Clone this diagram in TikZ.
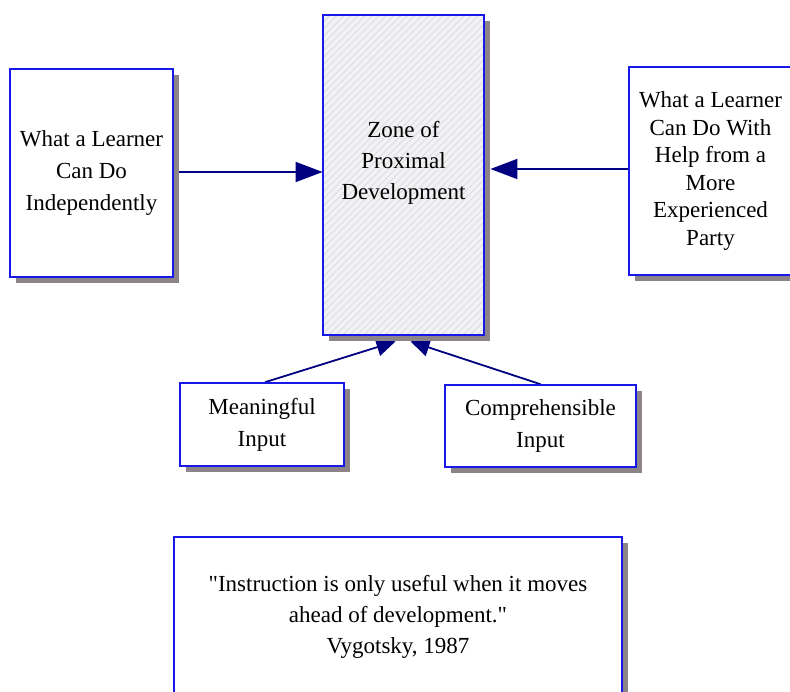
\documentclass[tikz,border=0pt]{standalone}
\usepackage{fontspec}
\setmainfont{Liberation Serif}
\usetikzlibrary{positioning,arrows.meta,shadows,patterns.meta,backgrounds}

\definecolor{boxblue}{RGB}{24,24,232}
\definecolor{linknavy}{RGB}{0,0,128}
\definecolor{shadowgray}{RGB}{140,132,136}
\definecolor{zonefill}{RGB}{242,241,243}
\definecolor{zonehatch}{RGB}{222,220,224}

\tikzset{
  card/.style={draw=boxblue, line width=1.6pt, fill=white, align=center,
    inner sep=0pt, font=\fontsize{23}{32}\selectfont,
    drop shadow={shadow xshift=6pt, shadow yshift=-6pt, fill=shadowgray, opacity=1}},
  link/.style={draw=linknavy, line width=1.8pt, -{Triangle[length=27pt,width=20pt]}},
  uplink/.style={draw=linknavy, line width=1.8pt, -{Triangle[length=19pt,width=18pt]}}
}

\begin{document}
\begin{tikzpicture}[x=1pt,y=-1pt]
	\useasboundingbox (0,0) rectangle (790,692);
	\clip (0,0) rectangle (790,692);

	% the zone in the middle, hatched
	\node[card, minimum width=161pt, minimum height=320pt,
	      preaction={fill=zonefill},
	      pattern={Lines[angle=45,distance=5pt,line width=0.9pt]}, pattern color=zonehatch]
	      (zpd) at (403.5,175) {};
	\node[font=\fontsize{23}{31}\selectfont, align=center] (zpdtext) at (403.5,163)
	      {Zone of\\Proximal\\Development};

	% what the learner manages alone / with help
	\node[card, minimum width=163pt, minimum height=208pt] (solo) at (91.5,173)
	      {What a Learner\\Can Do\\Independently};
	\node[card, minimum width=163pt, minimum height=208pt,
	      font=\fontsize{23}{27.5}\selectfont] (helped) at (710.5,171)
	      {What a Learner\\Can Do With\\Help from a\\More\\Experienced\\Party};

	% inputs
	\node[card, minimum width=164pt, minimum height=83pt] (meaningful) at (262,424.5)
	      {Meaningful\\Input};
	\node[card, minimum width=191pt, minimum height=82pt] (comprehensible) at (540.5,426)
	      {Comprehensible\\Input};

	% quote
	\node[card, minimum width=448pt, minimum height=160pt,
	      font=\fontsize{23}{31}\selectfont] (quote) at (398,617)
	      {\textquotedbl Instruction is only useful when it moves\\
	       ahead of development.\textquotedbl\\Vygotsky, 1987};

	\begin{scope}[on background layer]
		\fill[white] (0,0) rectangle (790,692);
		\draw[link] ([yshift=1pt]solo.east) -- ([yshift=1pt]solo.east -| zpd.west);
		\draw[link] ([yshift=2pt]helped.west) -- ([xshift=6pt,yshift=2pt]helped.west -| zpd.east);
		\draw[uplink] ([xshift=3pt]meaningful.north) -- ([shift={(-8,6)}]zpd.south);
		\draw[uplink] (comprehensible.north) -- ([shift={(7,6)}]zpd.south);
	\end{scope}
\end{tikzpicture}
\end{document}
